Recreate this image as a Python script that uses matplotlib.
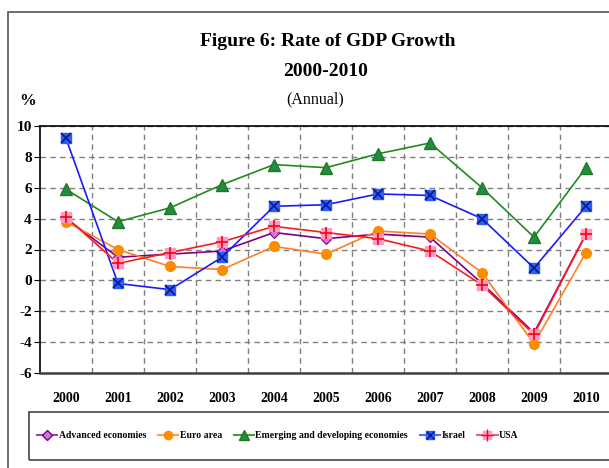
import numpy as np
import matplotlib.pyplot as plt
from matplotlib.patches import Rectangle
from matplotlib.lines import Line2D

# Datos de crecimiento del PIB (%), 2000-2010
years = ["2000", "2001", "2002", "2003", "2004", "2005",
         "2006", "2007", "2008", "2009", "2010"]
advanced = [4.0, 1.5, 1.7, 1.9, 3.1, 2.7, 3.0, 2.8, -0.2, -3.4, 3.0]
euro = [3.8, 2.0, 0.9, 0.7, 2.2, 1.7, 3.2, 3.0, 0.5, -4.1, 1.8]
emerging = [5.9, 3.8, 4.7, 6.2, 7.5, 7.3, 8.2, 8.9, 6.0, 2.8, 7.3]
israel = [9.2, -0.2, -0.6, 1.5, 4.8, 4.9, 5.6, 5.5, 4.0, 0.8, 4.8]
usa = [4.1, 1.1, 1.8, 2.5, 3.5, 3.1, 2.7, 1.9, -0.3, -3.5, 3.0]

plt.rcParams['font.family'] = ['Liberation Serif', 'DejaVu Serif']
plt.rcParams['axes.unicode_minus'] = False

fig = plt.figure(figsize=(6.09, 4.68), dpi=100)
W, H = 609, 468
ax = fig.add_axes([40 / W, 1 - 373 / H, (612 - 40) / W, (373 - 126) / H])

x = np.arange(len(years))

# Economías avanzadas
ax.plot(x, advanced, color="#800080", lw=1.2, marker="D", ms=5.5,
        mfc="#cc77dd", mec="#800080", mew=0.8, zorder=3)
# Zona euro
ax.plot(x, euro, color="#ff7f27", lw=1.2, marker="o", ms=7,
        mfc="#ff8c00", mec="#ff8c00", zorder=3)
# Emergentes y en desarrollo
ax.plot(x, emerging, color="#1e8c1e", lw=1.2, marker="^", ms=8,
        mfc="#238b45", mec="#1e7a1e", zorder=3)
# Israel: cuadrado azul con aspa
ax.plot(x, israel, color="#1a1aff", lw=1.2, marker="s", ms=7.5,
        mfc="#2a5cff", mec="#2a5cff", zorder=3)
ax.plot(x, israel, ls="none", marker="x", ms=6.5, mec="#0a1a80",
        mew=1.2, zorder=4)
# EEUU: cuadrado rosa con cruz roja
ax.plot(x, usa, color="#ff1a1a", lw=1.2, marker="s", ms=7.5,
        mfc="#ff99cc", mec="#ff99cc", zorder=3)
ax.plot(x, usa, ls="none", marker="+", ms=9, mec="#ff0000",
        mew=1.2, zorder=4)

ax.set_xlim(-0.5, len(years) - 0.5)
ax.set_ylim(-6, 10)
ax.set_yticks(np.arange(-6, 11, 2))
ax.set_xticks(x)
ax.set_xticklabels(years)
ax.set_xticks(np.arange(0.5, len(years) - 0.5, 1), minor=True)
ax.tick_params(axis="x", which="both", length=0, pad=14)
ax.tick_params(axis="y", length=4, direction="out", pad=2)
for lbl in ax.get_xticklabels():
    lbl.set_fontweight("bold")
    lbl.set_fontsize(10)
for lbl in ax.get_yticklabels():
    lbl.set_fontweight("bold")
    lbl.set_fontsize(11)

ax.yaxis.grid(True, ls=(0, (4, 3)), color="#808080", lw=1)
ax.xaxis.grid(True, which="minor", ls=(0, (4, 3)), color="#808080", lw=1)
ax.xaxis.grid(False, which="major")
ax.set_axisbelow(True)
for s in ["left", "top"]:
    ax.spines[s].set_linewidth(1.2)
ax.spines["bottom"].set_linewidth(1.8)
ax.spines["bottom"].set_color("#404040")

# Títulos
fig.text(328 / W, 1 - 42 / H, "Figure 6: Rate of GDP Growth", ha="center",
         va="center", fontsize=14, fontweight="bold")
fig.text(326 / W, 1 - 71 / H, "2000-2010", ha="center", va="center",
         fontsize=14, fontweight="bold")
fig.text(315 / W, 1 - 99 / H, "(Annual)", ha="center", va="center",
         fontsize=11.5)
fig.text(28 / W, 1 - 101 / H, "%", ha="center", va="center",
         fontsize=12, fontweight="bold")

# Marco exterior
fig.patches.append(Rectangle((8 / W, -0.1), 1.2, 1 - 12 / H + 0.1,
                             transform=fig.transFigure, fill=False,
                             ec="#555555", lw=1.2))

# Leyenda
handles = [
    Line2D([], [], color="#a040c0", marker="D", ms=5, mfc="#cc77dd", mec="#800080"),
    Line2D([], [], color="#ff9955", marker="o", ms=6, mfc="#ff8c00", mec="#ff8c00"),
    Line2D([], [], color="#40a040", marker="^", ms=7, mfc="#238b45", mec="#1e7a1e"),
    (Line2D([], [], color="#5a6aff", marker="s", ms=6, mfc="#2a5cff", mec="#2a5cff"),
     Line2D([], [], ls="none", marker="x", ms=6, mec="#0a1a80")),
    (Line2D([], [], color="#ff5a7a", marker="s", ms=6, mfc="#ff99cc", mec="#ff99cc"),
     Line2D([], [], ls="none", marker="+", ms=8, mec="#ff0000")),
]
labels = ["Advanced economies", "Euro area",
          "Emerging and developing economies", "Israel", "USA"]
leg = fig.legend(handles, labels, loc="center left",
                 bbox_to_anchor=(30 / W, 1 - 436 / H), ncol=5,
                 frameon=False, handlelength=2.1, handletextpad=0.15,
                 columnspacing=1.2, borderpad=0.2,
                 prop={"weight": "bold", "size": 7})
fig.patches.append(Rectangle((29 / W, 1 - 460 / H), 1.0, 48 / H,
                             transform=fig.transFigure, fill=False,
                             ec="#444444", lw=1.2))

fig.savefig("out.png", dpi=100)
